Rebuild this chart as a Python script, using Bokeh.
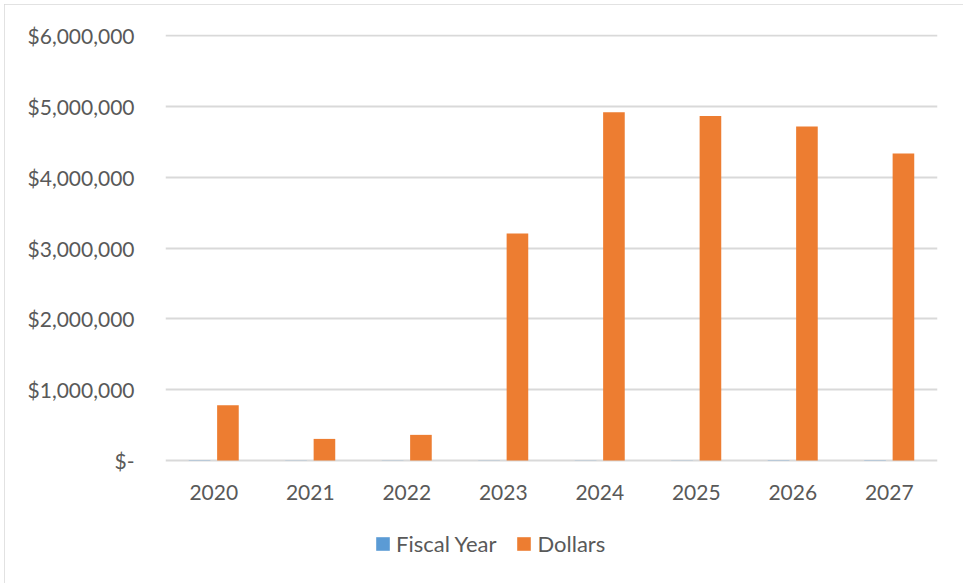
from bokeh.plotting import figure
from bokeh.models import ColumnDataSource, FactorRange, Range1d, FixedTicker, Legend, LegendItem
from bokeh.core.properties import value
from bokeh.transform import dodge
from bokeh.embed import file_html
from bokeh.resources import INLINE

years = ["2020", "2021", "2022", "2023", "2024", "2025", "2026", "2027"]
fiscal_year = [2020, 2021, 2022, 2023, 2024, 2025, 2026, 2027]
dollars = [780000, 305000, 362000, 3205000, 4915000, 4865000, 4715000, 4335000]
y_ticks = [0, 1000000, 2000000, 3000000, 4000000, 5000000, 6000000]
y_tick_labels = ["$-", "$1,000,000", "$2,000,000", "$3,000,000", "$4,000,000", "$5,000,000", "$6,000,000"]

FONT = "Lato"
TXT = "#595959"

# layout (page pixels)
OFF = 4                 # element offset on page
W, H = 959, 579         # element size
PLOT_L, PLOT_R = 165, 937
ZERO_Y, TOP_Y = 460, 35
FRAME_TOP, FRAME_BOT = 34, 578

y_max = y_ticks[-1]
ppu = (ZERO_Y - TOP_Y) / y_max
y_end = y_max + (TOP_Y - FRAME_TOP) / ppu
y_start = -(FRAME_BOT - ZERO_Y) / ppu

src = ColumnDataSource(dict(year=years, fy=fiscal_year, dollars=dollars))

p = figure(width=W, height=H, x_range=FactorRange(*years), y_range=Range1d(y_start, y_end),
           output_backend="svg", toolbar_location=None,
           min_border_left=PLOT_L - OFF, min_border_right=(OFF + W) - PLOT_R,
           min_border_top=FRAME_TOP - OFF, min_border_bottom=(OFF + H) - FRAME_BOT)
p.margin = (OFF, 0, 0, OFF)
p.styles = {"outline": "2px solid #D9D9D9", "outline-offset": "-2px"}
p.outline_line_color = None
p.background_fill_color = "white"
p.border_fill_color = "white"

r1 = p.vbar(x=dodge("year", -0.147, range=p.x_range), top="fy", width=0.224, source=src,
            fill_color="#5B9BD5", line_color=None)
r2 = p.vbar(x=dodge("year", 0.147, range=p.x_range), top="dollars", width=0.224, source=src,
            fill_color="#ED7D31", line_color=None)

# category labels under the zero line
p.text(x="year", y=0, text="year", source=src, y_offset=32,
       text_align="center", text_baseline="middle",
       text_font=value(FONT), text_font_size="21px", text_color=TXT)
p.xaxis.visible = False

p.yaxis.ticker = FixedTicker(ticks=y_ticks)
p.yaxis.major_label_overrides = {t: l for t, l in zip(y_ticks, y_tick_labels)}
p.yaxis.axis_line_color = None
p.yaxis.major_tick_line_color = None
p.yaxis.minor_tick_line_color = None
p.yaxis.major_label_standoff = 25
p.yaxis.major_label_text_font = FONT
p.yaxis.major_label_text_font_size = "21px"
p.yaxis.major_label_text_color = TXT

p.xgrid.grid_line_color = None
p.ygrid.ticker = FixedTicker(ticks=y_ticks)
p.ygrid.grid_line_color = "#D9D9D9"
p.ygrid.grid_line_width = 1.8

legend = Legend(items=[LegendItem(label="Fiscal Year", renderers=[r1]),
                       LegendItem(label="Dollars", renderers=[r2])],
                orientation="horizontal", location=(209, 21))
legend.border_line_color = None
legend.background_fill_alpha = 0
legend.padding = 0
legend.margin = 0
legend.glyph_width = 17
legend.glyph_height = 17
legend.label_standoff = 5
legend.spacing = 19
legend.label_text_font = FONT
legend.label_text_font_size = "22px"
legend.label_text_color = TXT
p.add_layout(legend, "center")

open("out.html", "w").write(file_html(p, INLINE))
